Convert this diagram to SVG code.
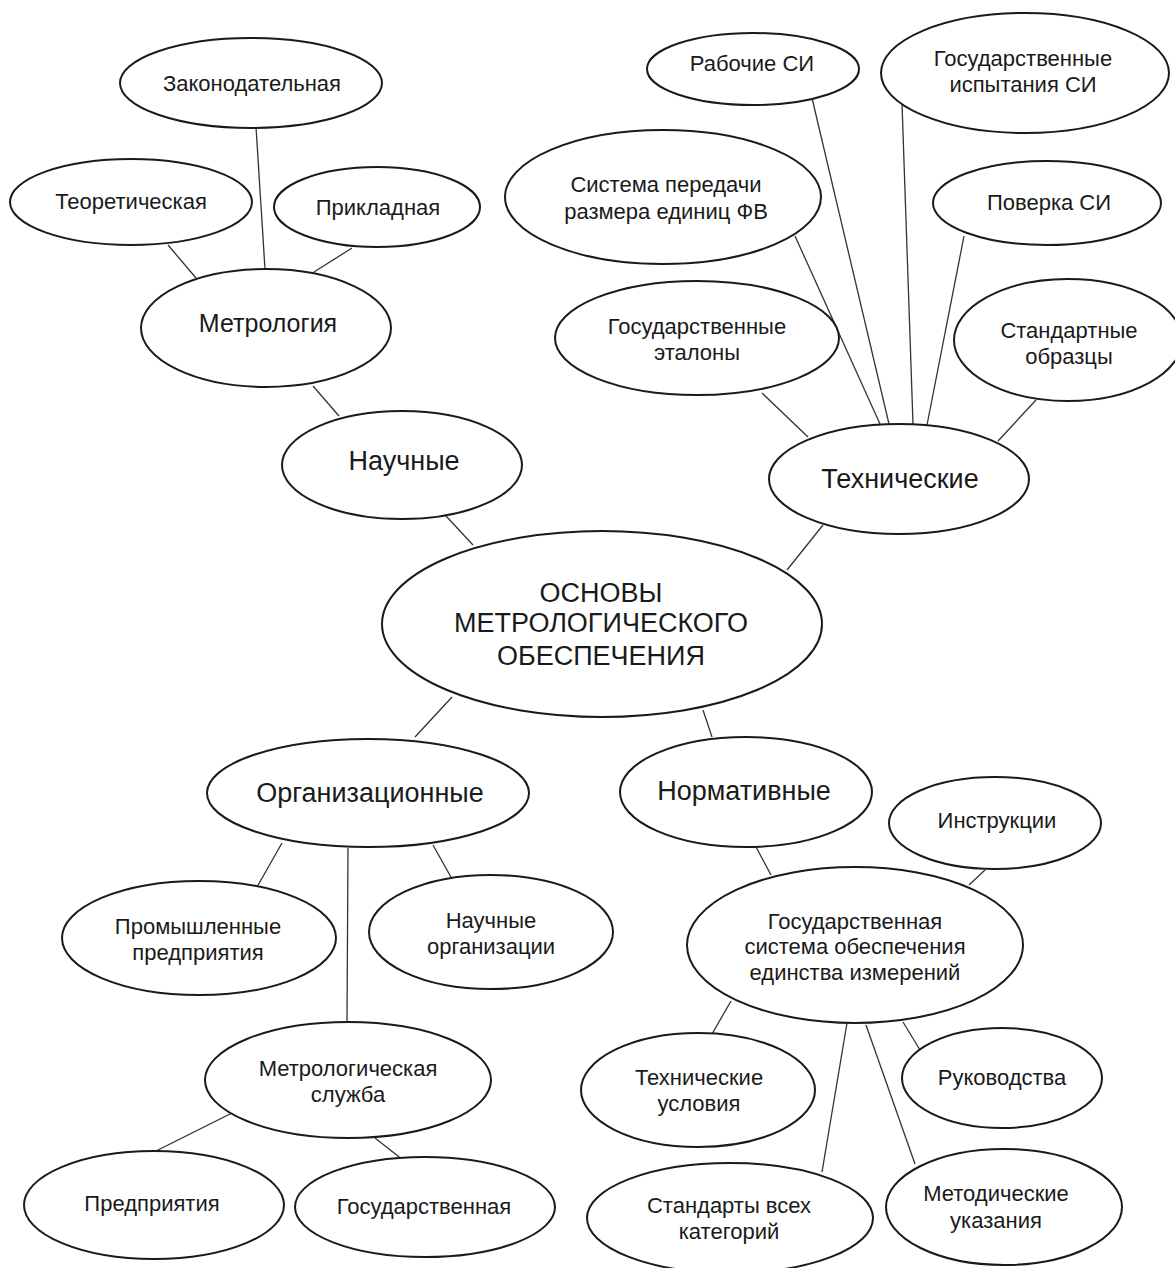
<svg xmlns="http://www.w3.org/2000/svg" width="1175" height="1268" viewBox="0 0 1175 1268">
<style>
.n ellipse{fill:#fff;stroke:#1a1a1a;stroke-width:2}
.n text{font-family:"Liberation Sans",Arial,sans-serif;fill:#1a1a1a;text-anchor:middle;dominant-baseline:central}
.s{font-size:22px}
.m{font-size:25px}
.l{font-size:27px}
#edges line{stroke:#333;stroke-width:1.3}
</style>
<rect width="1175" height="1268" fill="#fff"/>
<g id="edges">
<line x1="256" y1="127" x2="265" y2="269"/>
<line x1="168" y1="245" x2="196" y2="278"/>
<line x1="352" y1="248" x2="314" y2="272"/>
<line x1="313" y1="386" x2="339" y2="416"/>
<line x1="446" y1="516" x2="473" y2="545"/>
<line x1="812" y1="98" x2="889" y2="424"/>
<line x1="902" y1="103" x2="913" y2="424"/>
<line x1="795" y1="236" x2="880" y2="424"/>
<line x1="964" y1="236" x2="927" y2="425"/>
<line x1="762" y1="393" x2="808" y2="437"/>
<line x1="1036" y1="400" x2="998" y2="441"/>
<line x1="823" y1="525" x2="787" y2="570"/>
<line x1="452" y1="697" x2="415" y2="737"/>
<line x1="703" y1="710" x2="712" y2="737"/>
<line x1="282" y1="843" x2="257" y2="887"/>
<line x1="433" y1="845" x2="452" y2="879"/>
<line x1="348" y1="848" x2="347" y2="1022"/>
<line x1="756" y1="847" x2="771" y2="875"/>
<line x1="985" y1="870" x2="969" y2="885"/>
<line x1="731" y1="1001" x2="712" y2="1034"/>
<line x1="847" y1="1023" x2="822" y2="1172"/>
<line x1="866" y1="1025" x2="915" y2="1164"/>
<line x1="903" y1="1022" x2="920" y2="1050"/>
<line x1="232" y1="1113" x2="152" y2="1153"/>
<line x1="375" y1="1138" x2="403" y2="1160"/>
</g>
<g id="zak" class="n"><ellipse cx="251" cy="83" rx="131" ry="45"/><text class="s" x="252" y="83">Законодательная</text></g>
<g id="teor" class="n"><ellipse cx="131" cy="202" rx="121" ry="43"/><text class="s" x="131" y="201">Теоретическая</text></g>
<g id="prikl" class="n"><ellipse cx="377" cy="207" rx="103" ry="40"/><text class="s" x="378" y="207">Прикладная</text></g>
<g id="metr" class="n"><ellipse cx="266" cy="328" rx="125" ry="59"/><text class="m" x="268" y="323">Метрология</text></g>
<g id="nauch" class="n"><ellipse cx="402" cy="465" rx="120" ry="54"/><text class="l" x="404" y="461">Научные</text></g>
<g id="rab" class="n"><ellipse cx="753" cy="69" rx="106" ry="36"/><text class="s" x="752" y="63">Рабочие СИ</text></g>
<g id="gosisp" class="n"><ellipse cx="1025" cy="73" rx="144" ry="60"/><text class="s" x="1023" y="58">Государственные</text><text class="s" x="1023" y="84">испытания СИ</text></g>
<g id="sist" class="n"><ellipse cx="663" cy="197" rx="158" ry="67"/><text class="s" x="666" y="184">Система передачи</text><text class="s" x="666" y="211">размера единиц ФВ</text></g>
<g id="pov" class="n"><ellipse cx="1047" cy="203" rx="114" ry="42"/><text class="s" x="1049" y="202">Поверка СИ</text></g>
<g id="etal" class="n"><ellipse cx="697" cy="338" rx="142" ry="57"/><text class="s" x="697" y="326">Государственные</text><text class="s" x="697" y="352">эталоны</text></g>
<g id="stobr" class="n"><ellipse cx="1068" cy="340" rx="114" ry="61"/><text class="s" x="1069" y="330">Стандартные</text><text class="s" x="1069" y="356">образцы</text></g>
<g id="tekh" class="n"><ellipse cx="899" cy="479" rx="130" ry="55"/><text class="l" x="900" y="479">Технические</text></g>
<g id="osn" class="n"><ellipse cx="602" cy="624" rx="220" ry="93"/><text class="l" x="601" y="593">ОСНОВЫ</text><text class="l" x="601" y="623">МЕТРОЛОГИЧЕСКОГО</text><text class="l" x="601" y="656">ОБЕСПЕЧЕНИЯ</text></g>
<g id="org" class="n"><ellipse cx="368" cy="793" rx="161" ry="54"/><text class="l" x="370" y="793">Организационные</text></g>
<g id="norm" class="n"><ellipse cx="746" cy="792" rx="126" ry="55"/><text class="l" x="744" y="791">Нормативные</text></g>
<g id="instr" class="n"><ellipse cx="995" cy="823" rx="106" ry="46"/><text class="s" x="997" y="820">Инструкции</text></g>
<g id="prom" class="n"><ellipse cx="199" cy="938" rx="137" ry="57"/><text class="s" x="198" y="926">Промышленные</text><text class="s" x="198" y="952">предприятия</text></g>
<g id="nauchorg" class="n"><ellipse cx="491" cy="932" rx="122" ry="57"/><text class="s" x="491" y="920">Научные</text><text class="s" x="491" y="946">организации</text></g>
<g id="gsi" class="n"><ellipse cx="855" cy="945" rx="168" ry="78"/><text class="s" x="855" y="921">Государственная</text><text class="s" x="855" y="946">система обеспечения</text><text class="s" x="855" y="972">единства измерений</text></g>
<g id="msl" class="n"><ellipse cx="348" cy="1080" rx="143" ry="58"/><text class="s" x="348" y="1068">Метрологическая</text><text class="s" x="348" y="1094">служба</text></g>
<g id="tu" class="n"><ellipse cx="698" cy="1090" rx="117" ry="57"/><text class="s" x="699" y="1077">Технические</text><text class="s" x="699" y="1103">условия</text></g>
<g id="ruk" class="n"><ellipse cx="1002" cy="1078" rx="100" ry="50"/><text class="s" x="1002" y="1077">Руководства</text></g>
<g id="pred" class="n"><ellipse cx="154" cy="1205" rx="130" ry="54"/><text class="s" x="152" y="1203">Предприятия</text></g>
<g id="gos" class="n"><ellipse cx="425" cy="1207" rx="130" ry="50"/><text class="s" x="424" y="1206">Государственная</text></g>
<g id="stand" class="n"><ellipse cx="730" cy="1218" rx="143" ry="55"/><text class="s" x="729" y="1205">Стандарты всех</text><text class="s" x="729" y="1231">категорий</text></g>
<g id="metod" class="n"><ellipse cx="1004" cy="1207" rx="118" ry="58"/><text class="s" x="996" y="1193">Методические</text><text class="s" x="996" y="1220">указания</text></g>
</svg>
